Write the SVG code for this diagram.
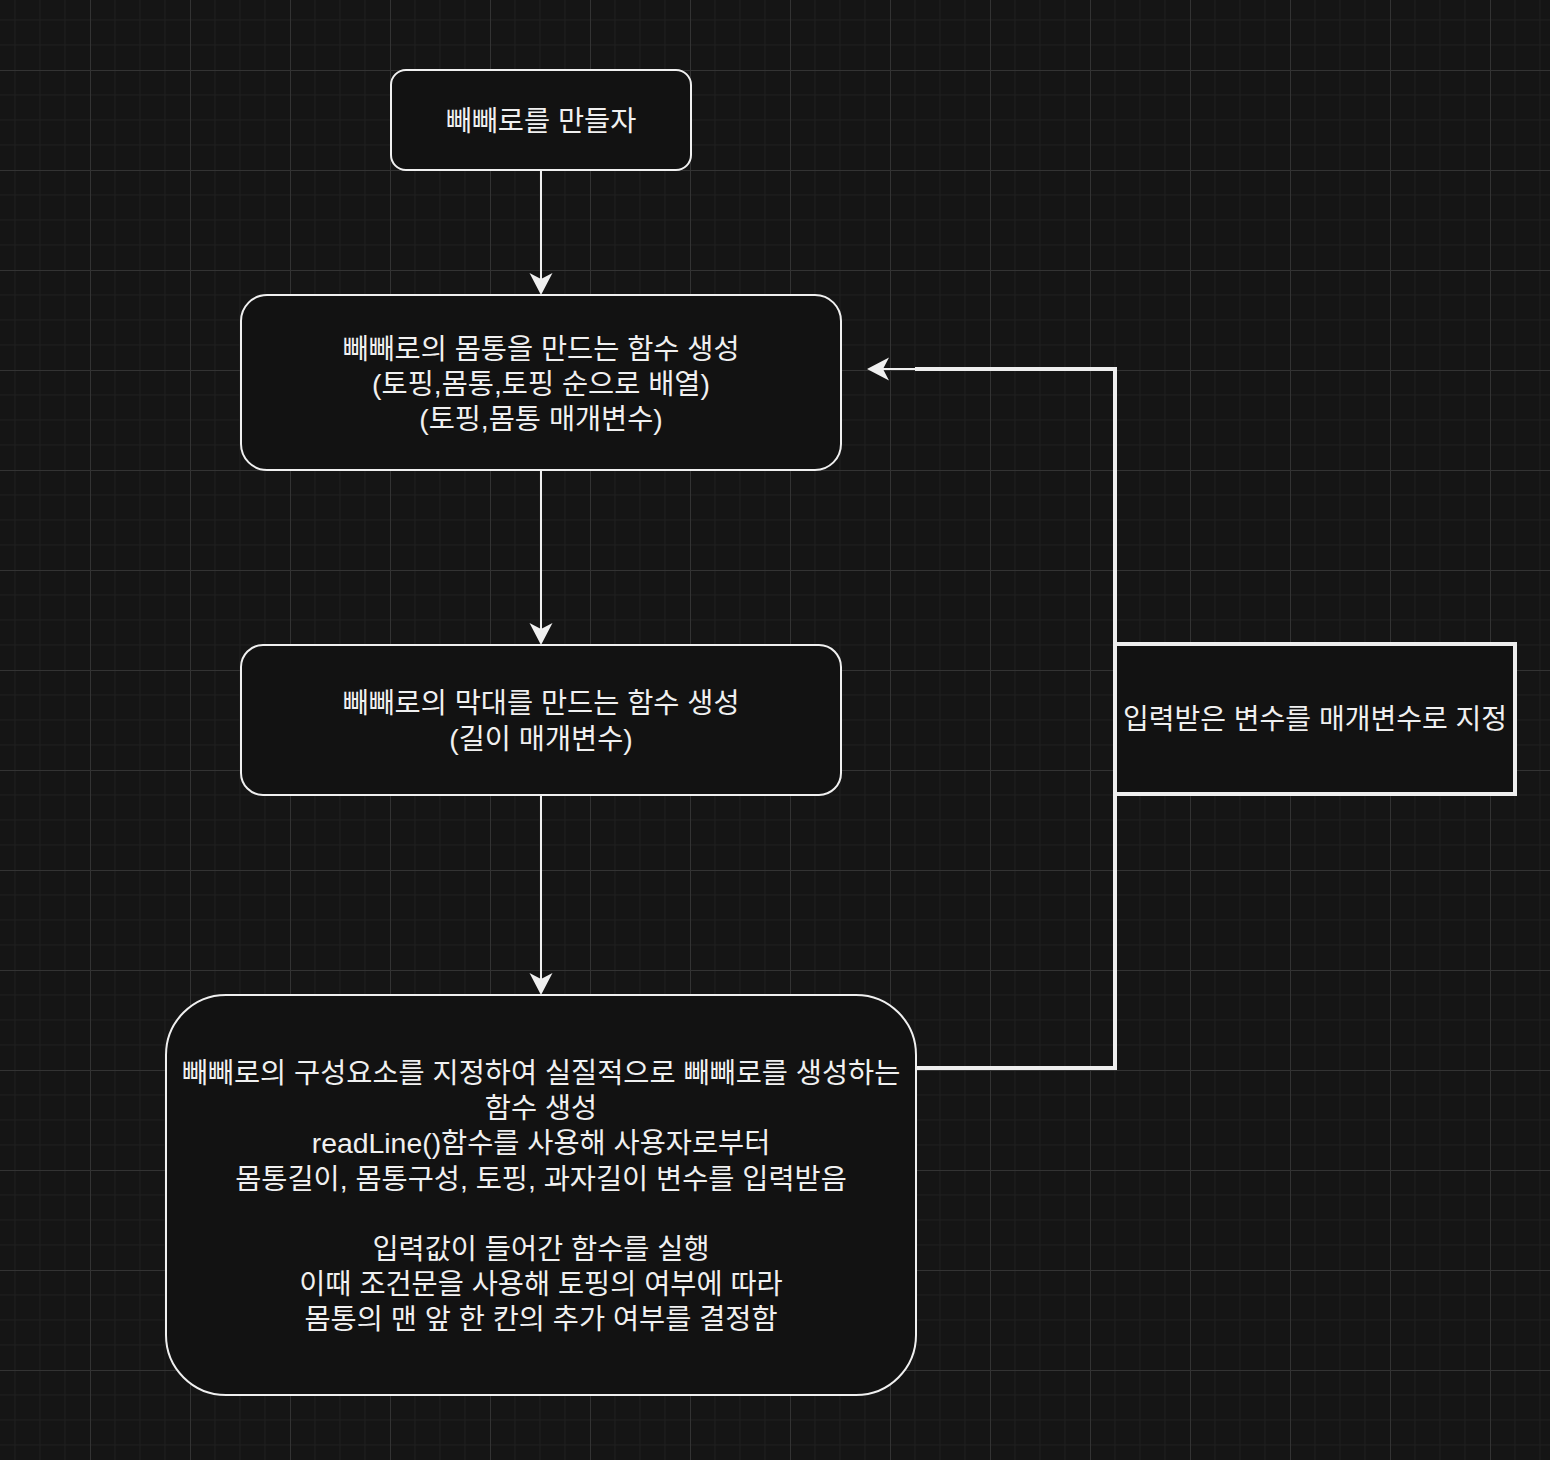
<svg xmlns="http://www.w3.org/2000/svg" width="1550" height="1460" viewBox="0 0 1550 1460">
<defs>
<pattern id="grid" x="90" y="70" width="100" height="100" patternUnits="userSpaceOnUse">
<path d="M25,0V100M50,0V100M75,0V100M0,25H100M0,50H100M0,75H100" stroke="#1f1f1f" stroke-width="1" fill="none"/>
<path d="M0.5,0V100M0,0.5H100" stroke="#333333" stroke-width="1" fill="none"/>
</pattern>
<marker id="arrow" viewBox="-7 -12 24 24" refX="0" refY="0" markerWidth="24" markerHeight="24" markerUnits="userSpaceOnUse" orient="auto">
<path d="M16,0 L-6,-11.5 L0,0 L-6,11.5 Z" fill="#f0f0f0"/>
</marker>
<style>
.node{fill:#121212;stroke:#f0f0f0;stroke-width:2}
.lbl{font-family:'Liberation Sans','Noto Sans CJK KR',sans-serif;font-size:28.4px;fill:#f0f0f0;text-anchor:middle}
.edge{fill:none;stroke:#f0f0f0;stroke-width:2}
.thick{fill:none;stroke:#eeeeee;stroke-width:4}
</style>
</defs>
<rect width="1550" height="1460" fill="#151515"/>
<rect width="1550" height="1460" fill="url(#grid)"/>

<g id="connectors">
<path class="edge" d="M541,170V279" marker-end="url(#arrow)"/>
<path class="edge" d="M541,470V629" marker-end="url(#arrow)"/>
<path class="edge" d="M541,795V979" marker-end="url(#arrow)"/>
<path class="thick" d="M916,1068H1115V369H915"/>
<path class="edge" d="M916,369H883" marker-end="url(#arrow)"/>
</g>

<g id="node-start">
<rect class="node" x="391" y="70" width="300" height="100" rx="15"/>
<text class="lbl" x="541" y="131">빼빼로를 만들자</text>
</g>

<g id="node-body">
<rect class="node" x="241" y="295" width="600" height="175" rx="26"/>
<text class="lbl" x="541" y="359">빼빼로의 몸통을 만드는 함수 생성</text>
<text class="lbl" x="541" y="394">(토핑,몸통,토핑 순으로 배열)</text>
<text class="lbl" x="541" y="429">(토핑,몸통 매개변수)</text>
</g>

<g id="node-stick">
<rect class="node" x="241" y="645" width="600" height="150" rx="22"/>
<text class="lbl" x="541" y="713">빼빼로의 막대를 만드는 함수 생성</text>
<text class="lbl" x="541" y="749">(길이 매개변수)</text>
</g>

<g id="node-make">
<rect class="node" x="166" y="995" width="750" height="400" rx="60"/>
<text class="lbl" x="541" y="1083">빼빼로의 구성요소를 지정하여 실질적으로 빼빼로를 생성하는</text>
<text class="lbl" x="541" y="1118">함수 생성</text>
<text class="lbl" x="541" y="1153">readLine()함수를 사용해 사용자로부터</text>
<text class="lbl" x="541" y="1189">몸통길이, 몸통구성, 토핑, 과자길이 변수를 입력받음</text>
<text class="lbl" x="541" y="1259">입력값이 들어간 함수를 실행</text>
<text class="lbl" x="541" y="1294">이때 조건문을 사용해 토핑의 여부에 따라</text>
<text class="lbl" x="541" y="1329">몸통의 맨 앞 한 칸의 추가 여부를 결정함</text>
</g>

<g id="node-param">
<rect x="1115" y="644" width="400" height="150" fill="#121212" stroke="#eeeeee" stroke-width="4"/>
<text class="lbl" x="1315" y="729" style="font-size:28px">입력받은 변수를 매개변수로 지정</text>
</g>
</svg>
